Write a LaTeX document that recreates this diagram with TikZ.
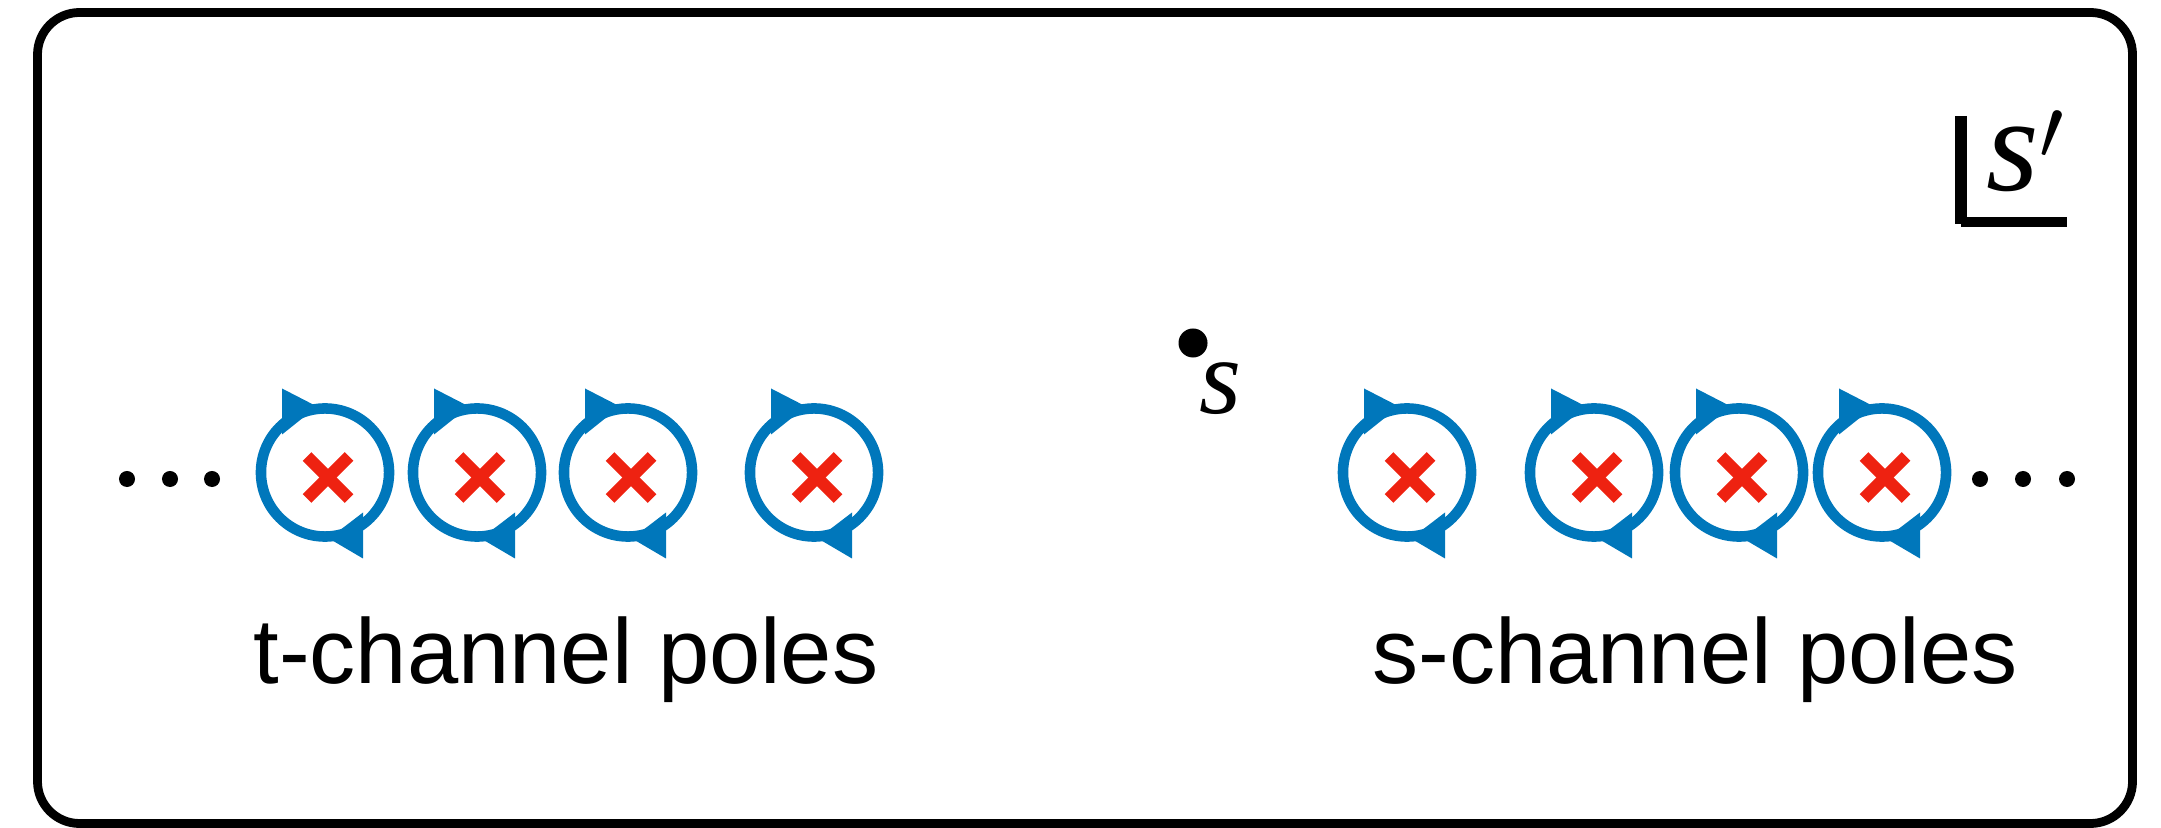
\documentclass[tikz,border=0pt]{standalone}
\usepackage{fontspec}
\newfontfamily\labelsans{Liberation Sans}
\newfontfamily\labelserif{Liberation Serif}
\definecolor{poleblue}{RGB}{0,119,187}
\definecolor{crossred}{RGB}{238,34,17}
\tikzset{
  pole/.style={circle, draw=poleblue, line width=3pt, minimum size=1.28cm, inner sep=0pt},
  arrowtri/.style={fill=poleblue},
  crossline/.style={draw=crossred, line width=3.5pt, line cap=butt},
  dotmark/.style={circle, fill=black, minimum size=0.16cm, inner sep=0pt},
  caption/.style={font=\labelsans\fontsize{26.2}{30}\selectfont, anchor=base, inner sep=0pt},
  varlabel/.style={anchor=base west, inner sep=0pt},
  frame/.style={draw=black, line width=2.5pt, rounded corners=0.42cm},
}
\begin{document}
\begin{tikzpicture}[x=0.01cm, y=-0.01cm]
\useasboundingbox (0,0) rectangle (2161,828);
\draw[frame] (37.5,12.5) rectangle (2132.5,823.5);

% poles
\foreach \n/\px in {t1/325, t2/477, t3/628, t4/814, s1/1407, s2/1594, s3/1739, s4/1882}{
  \node[pole] (\n) at (\px,472.5) {};
  \begin{scope}[shift={(\n.center)}]
    \fill[arrowtri] (-43,-84) -- (-43,-38) -- (-8,-66) -- cycle;
    \fill[arrowtri] (38,40) -- (38,86) -- (4,66) -- cycle;
    \draw[crossline] (-18,-16) -- (24,26);
    \draw[crossline] (-18,26) -- (24,-16);
  \end{scope}
}

% ellipsis dots
\foreach \n/\px in {dl1/127, dl2/170, dl3/212, dr1/1980, dr2/2023, dr3/2067}{
  \node[dotmark] (\n) at (\px,479) {};
}

% point s
\node[circle, fill=black, minimum size=0.29cm, inner sep=0pt] (sdot) at (1193,343) {};
\node[varlabel, font=\labelserif\itshape\fontsize{30.7}{34}\selectfont] (slabel) at (1199,414) {s};

% s' plane label
\draw[line width=3.4pt] (1961,116) -- (1961,224.5);
\draw[line width=2.85pt] (1961,222) -- (2067,222);
\node[varlabel, font=\labelserif\itshape\fontsize{38.4}{42}\selectfont] (splabel) at (1986,191) {s$'$};

% captions
\node[caption] (tcap) at (566,683) {t-channel poles};
\node[caption] (scap) at (1695,683) {s-channel poles};
\end{tikzpicture}
\end{document}
